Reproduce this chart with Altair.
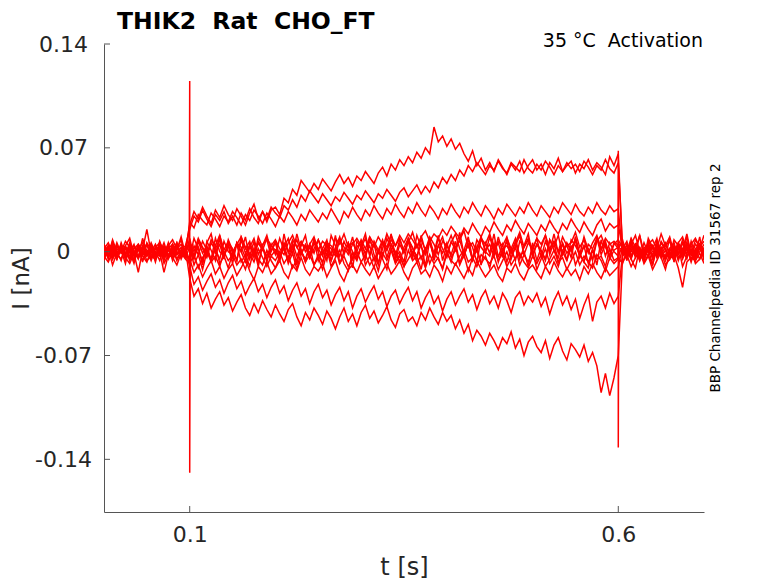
import altair as alt
import pandas as pd

# Sweep currents in pA, one sample every 5 ms from 0 to 0.7 s:
# 20 samples before the step, 101 during the step (0.1 - 0.6 s), 20 after.
sweep_a = [3, -4, 2, -5, 6, -2, 1, -6, 4, -1, -3, 5, -2, 2, -4, 3, -1, 6, -3, 1] + [
    18, 27, 22, 30, 24, 19, 28, 23, 31, 25,
    21, 29, 24, 18, 26, 32, 22, 27, 20, 28,
    30, 25, 36, 33, 42, 38, 48, 44, 40, 46,
    42, 49, 45, 41, 47, 52, 46, 50, 44, 51,
    48, 54, 50, 46, 53, 57, 51, 59, 55, 62,
    58, 64, 60, 67, 63, 70, 66, 84, 74, 78,
    71, 76, 69, 73, 66, 61, 68, 58, 63, 55,
    60, 54, 62, 57, 52, 59, 55, 61, 53, 58,
    62, 55, 59, 52, 60, 56, 63, 54, 58, 61,
    53, 59, 56, 62, 55, 60, 57, 52, 64, 58,
    66] + [-2, 5, -4, 3, -6, 1, 4, -3, 7, -1, -5, 2, 6, -4, 0, 3, -7, 2, 5, -2]

sweep_b = [-3, 2, -5, 4, -1, 3, -6, 2, 5, -2, 0, -4, 3, -1, 6, -3, 2, -5, 1, 4] + [
    15, 24, 20, 28, 22, 17, 25, 21, 27, 19,
    24, 18, 26, 21, 29, 23, 19, 27, 22, 30,
    26, 23, 31, 28, 35, 30, 38, 34, 41, 37,
    33, 39, 35, 31, 37, 34, 40, 36, 32, 38,
    35, 41, 37, 33, 39, 36, 42, 38, 34, 40,
    43, 37, 41, 45, 39, 44, 40, 47, 43, 50,
    46, 52, 48, 55, 51, 58, 54, 60, 56, 52,
    58, 55, 61, 56, 53, 60, 57, 54, 62, 56,
    53, 59, 55, 61, 57, 52, 58, 54, 60, 56,
    59, 54, 61, 57, 52, 58, 55, 62, 56, 53,
    60] + [3, -4, 1, 5, -2, -6, 2, 4, -3, 1, 6, -1, -4, 3, -5, 2, 0, -3, 5, -1]

sweep_c = [1, -3, 4, -2, -5, 3, 0, 5, -4, 2, -1, 4, -3, 1, -6, 2, 5, -2, 3, -4] + [
    20, 16, 25, 21, 18, 26, 22, 17, 24, 20,
    27, 23, 18, 25, 21, 28, 24, 19, 26, 22,
    17, 24, 20, 27, 23, 18, 25, 21, 28, 24,
    20, 26, 22, 29, 24, 19, 27, 23, 30, 25,
    21, 28, 24, 31, 26, 22, 29, 25, 32, 27,
    23, 30, 26, 33, 28, 24, 31, 27, 22, 29,
    25, 32, 27, 23, 30, 26, 33, 28, 24, 31,
    27, 22, 29, 25, 32, 28, 24, 30, 26, 33,
    28, 24, 31, 27, 23, 30, 26, 33, 29, 25,
    32, 27, 24, 30, 26, 33, 28, 25, 31, 27,
    29] + [-3, 2, -5, 4, 1, -2, 5, -4, 0, 3, -6, 2, -1, 4, -3, 6, -2, 1, -5, 3]

sweep_d = [4, -2, 1, -5, 3, -1, 5, -3, 2, -6, 0, 3, -4, 6, -2, 1, -3, 4, -1, 2] + [
    5, -3, 8, 2, -4, 6, 1, -5, 7, 0,
    -2, 6, 3, -4, 5, -1, 7, 2, -3, 4,
    1, -4, 6, 0, 8, 3, -2, 5, -1, 7,
    2, -3, 6, 4, -1, 8, 3, -2, 5, 9,
    4, -1, 7, 3, 10, 5, 1, 8, 4, 11,
    6, 12, 8, 3, 10, 14, 7, 12, 9, 15,
    11, 17, 13, 9, 16, 12, 19, 14, 10, 17,
    13, 20, 15, 11, 18, 14, 21, 16, 12, 19,
    15, 11, 18, 14, 21, 16, 12, 19, 15, 22,
    17, 13, 20, 15, 11, 18, 22, 14, 19, 16,
    18] + [2, -5, 3, 0, -3, 6, -1, 4, -4, 1, 5, -2, 3, -6, 2, -1, 4, -3, 0, 5]

sweep_e = [-2, 4, -5, 1, 3, -3, 6, -1, -4, 2, 5, -2, 0, -6, 3, 1, -3, 4, -5, 2] + [
    -18, -30, -25, -35, -28, -38, -32, -27, -36, -31,
    -40, -34, -29, -38, -43, -35, -41, -33, -39, -44,
    -36, -42, -47, -39, -35, -44, -50, -41, -46, -38,
    -43, -49, -40, -45, -52, -44, -38, -47, -42, -50,
    -41, -36, -45, -40, -48, -43, -37, -46, -51, -42,
    -39, -47, -44, -50, -41, -46, -38, -44, -49, -41,
    -47, -43, -52, -46, -55, -49, -60, -53, -57, -63,
    -55, -60, -66, -58, -62, -54, -65, -59, -70, -61,
    -57, -64, -68, -60, -72, -63, -58, -67, -73, -62,
    -66, -71, -63, -74, -68, -77, -95, -82, -97, -85,
    -70] + [-3, 2, 5, -4, 1, -2, 6, -5, 3, 0, -4, 2, -1, 5, -3, 4, -6, 1, 3, -2]

sweep_f = [5, -1, -4, 2, 0, 4, -3, 1, -5, 3, -2, 6, -1, -3, 2, -4, 5, 0, -2, 3] + [
    -10, -22, -17, -26, -20, -15, -24, -19, -28, -21,
    -16, -25, -20, -29, -23, -18, -27, -22, -31, -24,
    -19, -28, -23, -33, -26, -21, -30, -25, -35, -27,
    -22, -31, -26, -36, -29, -24, -33, -27, -38, -30,
    -25, -34, -28, -23, -32, -27, -37, -30, -26, -35,
    -29, -24, -33, -27, -38, -31, -26, -35, -30, -40,
    -32, -27, -36, -30, -25, -34, -29, -39, -31, -26,
    -35, -30, -38, -28, -33, -41, -31, -27, -36, -30,
    -34, -28, -37, -31, -42, -33, -27, -36, -30, -39,
    -32, -45, -36, -29, -47, -34, -30, -38, -28, -35,
    -30] + [-1, 4, -3, 2, -6, 3, 0, -2, 5, -4, 1, -5, 3, 2, -3, 6, -1, -4, 2, 0]

sweep_g = [-4, 1, 3, -2, 5, -5, 2, 0, -3, 4, 1, -6, 2, 3, -1, -4, 5, -2, 1, -3] + [
    -5, -14, -9, -17, -11, -6, -15, -10, -18, -12,
    -8, -16, -11, -5, -13, -19, -10, -14, -7, -15,
    -11, -6, -14, -18, -9, -13, -4, -12, -16, -10,
    -13, -8, -17, -11, -6, -15, -20, -12, -9, -14,
    -7, -12, -16, -10, -18, -13, -8, -15, -11, -6,
    -14, -19, -11, -7, -15, -12, -17, -9, -13, -20,
    -10, -15, -8, -13, -18, -11, -16, -6, -12, -17,
    -13, -9, -16, -20, -11, -14, -8, -15, -19, -12,
    -9, -14, -18, -10, -15, -7, -13, -17, -11, -16,
    -12, -19, -10, -15, -8, -14, -18, -11, -16, -13,
    -10] + [3, -2, 0, 5, -4, 1, -3, 4, -1, 2, -5, 0, 4, -2, 6, -3, 1, -1, 3, -4]

sweep_h = [2, 6, -1, 4, 0, 7, 3, -2, 5, 1, 15, -1, 3, 6, 0, 4, 8, 2, 5, -1] + [
    6, 0, 9, 3, -2, 8, 4, 11, 1, 7,
    -1, 5, 10, 2, 7, -3, 6, 1, 9, 4,
    8, 2, -2, 6, 11, 3, 7, 0, 5, 10,
    1, 7, 4, -2, 9, 5, 12, 3, 6, 0,
    8, 2, 10, 5, -1, 7, 3, 11, 4, 9,
    0, 6, 13, 3, 8, 1, 10, 5, -2, 7,
    4, 11, 2, 8, 14, 3, 6, 0, 9, 5,
    12, 2, 7, 4, 10, -1, 6, 13, 3, 8,
    1, 9, 5, 11, 2, 7, 0, 10, 4, 6,
    13, 3, 8, -1, 6, 11, 2, 9, 5, 7,
    4] + [6, 0, 9, 3, 11, -1, 5, 8, 2, 12, 4, 7, -2, 6, 10, 1, 5, 9, 3, 7]

sweep_i = [-3, -7, 0, -5, 2, -4, -8, -1, -14, 1, -6, -3, -5, 0, -14, -2, -4, -9, -1, -5] + [
    -8, -2, -11, -4, 1, -7, -3, -10, 0, -6,
    -2, -9, -5, -12, -1, -7, 2, -4, -10, -3,
    -6, 0, -8, -3, -11, -5, 1, -7, -2, -9,
    -4, -12, -1, -6, 2, -8, -3, -10, -5, 0,
    -7, -2, -9, -4, -13, -1, -6, 1, -8, -3,
    -10, -5, 0, -7, -3, -11, -2, -8, -4, -12,
    -1, -6, -9, -3, 1, -7, -4, -10, -2, -5,
    -8, -3, -12, -6, 0, -9, -4, -1, -7, -11,
    -3, -8, -2, -10, -5, 1, -7, -4, -12, -6,
    0, -9, -3, -7, -11, -2, -6, -13, -4, -8,
    -5] + [-7, -2, -10, -4, 1, -8, -3, -12, -6, 0, -9, -5, -2, -11, -24, -7, -4, -6, -1, -8]

sweep_j = [0, 4, -3, 6, -1, 2, -5, 3, 1, -2, 5, -4, 2, -1, 4, -3, 0, 6, -2, 1] + [
    3, -5, 7, -1, 4, -6, 2, 8, -3, 5,
    -4, 6, 0, -7, 3, 9, -2, 4, -5, 1,
    7, -3, 5, -6, 2, 8, -1, 4, -4, 6,
    0, -8, 5, 2, -3, 9, -1, 6, -5, 3,
    7, -2, 4, -6, 1, 8, -4, 5, 0, -7,
    3, 9, -2, 5, -5, 2, 7, -3, 4, -1,
    6, -4, 1, 8, -2, 5, -6, 3, 10, 0,
    -3, 6, -7, 2, 4, -1, 7, -5, 3, 9,
    -2, 5, 0, -6, 8, 1, -4, 6, -1, 3,
    7, -3, 4, -8, 2, 9, -2, 5, -5, 1,
    3] + [1, -4, 6, -2, 3, -6, 5, 0, -3, 7, 2, -5, 4, -1, 8, -3, 2, -6, 5, 0]

sweep_k = [-2, 3, 5, -4, 1, -1, 4, -6, 2, 6, -3, 0, 5, -2, 3, -5, 1, 4, -4, 2] + [
    -6, 4, -2, 7, 1, -5, 9, 0, -3, 6,
    2, -6, 8, -1, 4, -4, 10, 3, -7, 5,
    -2, 9, 1, -5, 6, -3, 4, 11, -4, 2,
    8, -1, 5, -6, 3, 10, -2, 6, 0, -5,
    4, 12, -3, 7, 1, -4, 9, 2, -6, 5,
    -1, 8, 3, -5, 11, 0, 6, -3, 9, 2,
    -4, 7, 1, 13, -2, 5, -5, 8, 3, -1,
    10, 0, 6, -4, 9, 2, -6, 7, 4, 12,
    -3, 5, 1, -5, 8, 3, 11, -2, 6, 0,
    9, -4, 4, 2, -6, 10, 1, 7, -3, 5,
    8] + [2, 7, -3, 5, 0, -5, 9, 3, -2, 6, 1, -4, 8, 4, -1, 10, -3, 5, 2, 11]

sweep_l = [5, -3, 8, 0, -6, 4, 9, -2, 3, -7, 6, 1, -4, 7, -1, 5, -5, 2, 8, -3] + [
    -4, 9, 2, -7, 6, 12, -1, 5, -5, 8,
    1, -6, 10, 3, -3, 7, -8, 4, 11, 0,
    6, -5, 3, 9, -2, 12, 1, -7, 5, -1,
    8, 2, -6, 11, 4, -3, 7, 0, 10, -4,
    3, 9, -2, 6, -8, 2, 12, 5, -3, 8,
    0, 7, -5, 11, 3, -2, 9, -6, 4, 10,
    -1, 6, 12, 2, -4, 8, 3, -7, 9, 1,
    5, -3, 10, 0, 7, -5, 4, 11, -2, 6,
    2, 9, -4, 7, 0, 12, -1, 5, -6, 8,
    4, -2, 10, 1, -5, 7, 11, 3, -3, 6,
    2] + [8, -2, 5, 11, 0, -4, 7, 2, 9, -3, 4, 10, -1, 6, 1, 12, -2, 8, 3, -5]

sweep_m = [-6, 2, -9, -1, 4, -5, 0, -8, 3, -3, -7, 1, -4, 5, -8, -2, 3, -6, 0, -4] + [
    3, -9, -2, -12, 0, -6, 4, -8, -3, -11,
    -1, 5, -7, -2, -10, 2, -5, -9, 1, -6,
    -11, -3, 3, -8, -1, -12, 0, -5, 4, -9,
    -2, -7, 2, -10, -4, 1, -8, -13, -1, -6,
    3, -9, -3, -11, 0, -5, -12, 2, -7, -2,
    -10, 1, -6, -3, -12, 3, -8, -1, -5, -11,
    0, -7, 4, -9, -2, -13, -4, 1, -8, -3,
    -11, 2, -6, -1, -10, -4, 3, -9, -2, -7,
    1, -12, -5, 2, -8, -3, -10, 0, -6, 4,
    -9, -2, -7, -11, 1, -5, -3, -10, 2, -6,
    -4] + [-8, 1, -5, -11, 3, -7, -2, -9, 2, -4, -12, 0, -6, 4, -10, -3, 1, -8, -5, 2]

sweep_n = [3, -5, 7, -2, 1, -8, 5, 0, -4, 9, -1, 2, -7, 4, -3, 6, -6, 1, 10, -2] + [
    9, -4, 3, -9, 7, 1, -6, 11, -2, 4,
    -8, 6, 0, 10, -5, 2, -10, 5, 8, -3,
    1, -7, 12, -1, 4, -9, 6, 3, -4, 9,
    -6, 2, 8, -3, 11, -8, 0, 5, -11, 7,
    3, -5, 10, -2, -9, 6, 1, 12, -4, 0,
    -7, 9, 2, -3, 5, -10, 8, -1, 11, -6,
    4, -2, 7, -8, 1, 10, -5, 3, -9, 6,
    -1, 12, -4, 5, -7, 2, 9, -3, 0, -10,
    6, -6, 3, 11, -2, 7, -8, 1, 4, -4,
    10, -1, -7, 5, 2, -9, 8, -3, 6, 0,
    -3] + [4, -6, 8, -1, 11, -4, 2, -9, 6, 0, -3, 9, -7, 3, 1, -5, 7, -2, 10, -6]

sweeps = {
    "a": sweep_a, "b": sweep_b, "c": sweep_c, "d": sweep_d, "e": sweep_e,
    "f": sweep_f, "g": sweep_g, "h": sweep_h, "i": sweep_i, "j": sweep_j,
    "k": sweep_k, "l": sweep_l, "m": sweep_m, "n": sweep_n,
}

# capacitive transients at step on / off (t in s, I in pA)
on_t = [0.0995, 0.1, 0.1, 0.1005, 0.101]
on_i = [3, 115, -149, -30, 5]
off_t = [0.5995, 0.6, 0.6, 0.6005, 0.601]
off_i = [-5, 68, -132, -25, 2]

x_ticks = [0.1, 0.6]
y_ticks = [-0.14, -0.07, 0, 0.07, 0.14]

title = "THIK2\u00a0 Rat\u00a0 CHO_FT"
condition = "35 °C\u00a0 Activation"
source = "BBP Channelpedia ID 31567 rep 2"

rows = []
for name, vals in sweeps.items():
    for k, v in enumerate(vals):
        rows.append({"sweep": name, "k": k, "t": round(k * 0.005, 3), "I": v / 1000})
for name, ts, vals in [("on", on_t, on_i), ("off", off_t, off_i)]:
    for k, (t, v) in enumerate(zip(ts, vals)):
        rows.append({"sweep": name, "k": k, "t": t, "I": v / 1000})
df = pd.DataFrame(rows)

FONT = "DejaVu Sans"
INK = "#262626"
x_scale = alt.Scale(domain=[0, 0.7], nice=False)
y_scale = alt.Scale(domain=[-0.1755, 0.14], nice=False, zero=False)
x_axis = alt.Axis(values=x_ticks, ticks=False, grid=False, format=".1f",
                  labelPadding=12, titlePadding=10)
y_axis = alt.Axis(values=y_ticks, ticks=False, grid=False,
                  labelExpr="replace(format(datum.value, '.2~f'), '\u2212', '-')",
                  labelAlign="center", labelPadding=41, titlePadding=1,
                  titleFontSize=23)

lines = alt.Chart(df).mark_line(color="#ff0000", strokeWidth=1.5, clip=True).encode(
    x=alt.X("t:Q", scale=x_scale, title="t [s]", axis=x_axis),
    y=alt.Y("I:Q", scale=y_scale, title="I [nA]", axis=y_axis),
    detail="sweep:N",
    order="k:Q",
)

# inward tick marks, MATLAB style
xt = alt.Chart(pd.DataFrame({"t": x_ticks})).mark_rule(color="#555555").encode(
    x=alt.X("t:Q", scale=x_scale, title="t [s]", axis=x_axis),
    y=alt.value(468), y2=alt.value(462),
)
yt = alt.Chart(pd.DataFrame({"I": y_ticks})).mark_rule(color="#555555").encode(
    y=alt.Y("I:Q", scale=y_scale, title="I [nA]", axis=y_axis),
    x=alt.value(0), x2=alt.value(6),
)

head = alt.Chart(pd.DataFrame({"s": [title]})).mark_text(
    font=FONT, fontSize=23.5, fontWeight="bold", color="black", align="left", baseline="alphabetic"
).encode(text="s:N", x=alt.value(13), y=alt.value(-15))

cond = alt.Chart(pd.DataFrame({"s": [condition]})).mark_text(
    font=FONT, fontSize=19, color="black", align="right", baseline="alphabetic"
).encode(text="s:N", x=alt.value(599), y=alt.value(3))

src = alt.Chart(pd.DataFrame({"s": [source]})).mark_text(
    font=FONT, fontSize=13.5, color="black", align="center", baseline="middle", angle=270
).encode(text="s:N", x=alt.value(612), y=alt.value(234))

chart = alt.layer(lines, xt, yt, head, cond, src).properties(
    width=600,
    height=468,
    autosize=alt.AutoSizeParams(type="none"),
    padding={"left": 96, "top": 36, "right": 66, "bottom": 70},
).configure_view(stroke=None).configure_axis(
    domainColor="#555555",
    labelFont=FONT,
    labelFontSize=22,
    labelColor=INK,
    titleFont=FONT,
    titleFontSize=24,
    titleFontWeight="normal",
    titleColor=INK,
)

chart.save("out.html", embed_options={"renderer": "svg", "actions": False})
